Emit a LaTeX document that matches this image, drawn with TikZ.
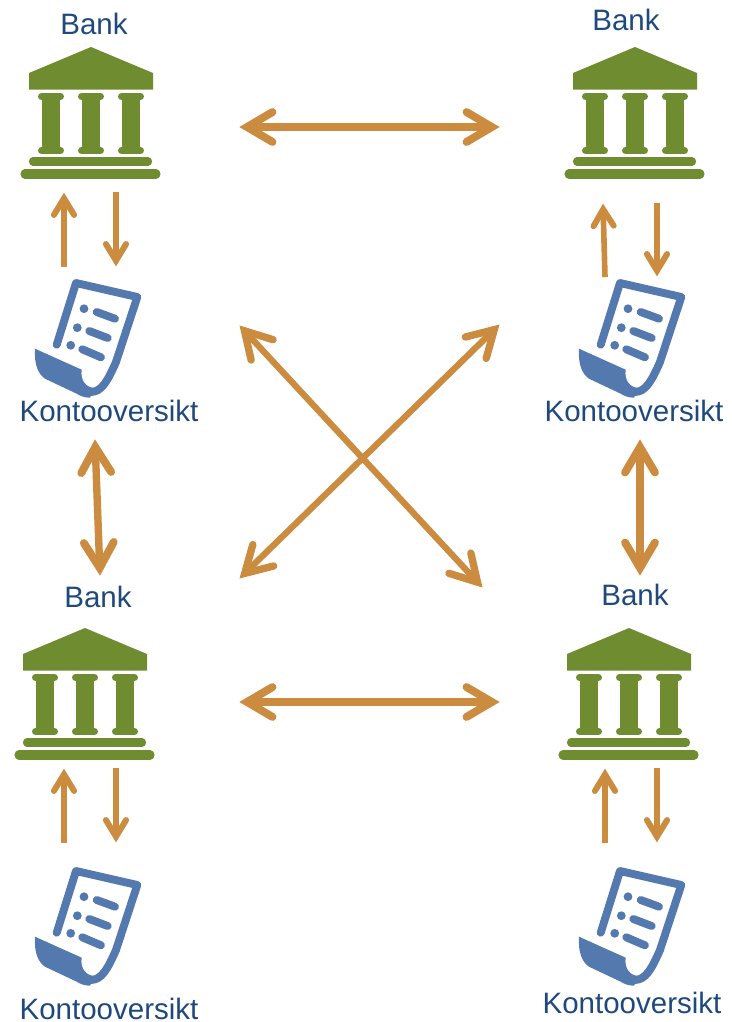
\documentclass[tikz,border=0pt]{standalone}
\usepackage{fontspec}
\setmainfont{Liberation Sans}
\usetikzlibrary{arrows.meta}
\definecolor{bankgreen}{HTML}{6F8D30}
\definecolor{docblue}{HTML}{5479AE}
\definecolor{arroworange}{HTML}{CC8C40}
\definecolor{labelblue}{HTML}{1F497D}
\pgfdeclarearrow{
  name=HeadBarb,
  parameters={\the\pgfarrowlength,\the\pgfarrowwidth,\the\pgfarrowlinewidth},
  defaults={length=18.5pt,width=17pt,line width=4.5pt},
  setup code={
    \pgfarrowssettipend{0pt}
    \pgfarrowssetbackend{-\pgfarrowlength}
    \pgfarrowssetlineend{-\pgfarrowlinewidth}
    \pgfarrowssetvisualbackend{-\pgfarrowlinewidth}
    \pgfarrowshullpoint{0pt}{0pt}
    \pgfarrowshullpoint{-\pgfarrowlength}{.5\pgfarrowwidth}
    \pgfarrowshullpoint{-\pgfarrowlength}{-.5\pgfarrowwidth}
  },
  drawing code={
    \pgfsetlinewidth{\pgfarrowlinewidth}
    \pgfsetroundcap
    \pgfsetmiterjoin
    \pgfsetdash{}{0pt}
    \pgfpathmoveto{\pgfqpoint{-\pgfarrowlength}{.5\pgfarrowwidth}}
    \pgfpathlineto{\pgfqpoint{-.9\pgfarrowlinewidth}{0pt}}
    \pgfpathlineto{\pgfqpoint{-\pgfarrowlength}{-.5\pgfarrowwidth}}
    \pgfusepathqstroke
  }
}
\tikzset{
  label/.style={text=labelblue, inner sep=0pt, font=\fontsize{16.8}{20}\selectfont},
  bigarrow/.style={arroworange, line width=4.2pt, {HeadBarb[line width=4.5pt]}-{HeadBarb[line width=4.5pt]}},
  diagarrow/.style={arroworange, line width=3.6pt, {HeadBarb[line width=4.2pt]}-{HeadBarb[line width=4.2pt]}},
  thinarrow/.style={arroworange, line width=3.2pt, -{HeadBarb[length=12.5pt,width=11.5pt,line width=3.4pt]}},
  bankicon/.pic={
    \fill[bankgreen] (0,0) -- (62,26) -- (62,42.5) -- (-62,42.5) -- (-62,26) -- cycle;
    \foreach \cx in {-40,0,40}{
      \fill[bankgreen] (\cx-9,49.5) rectangle (\cx+9,103.5);
      \draw[bankgreen, line width=4pt, line cap=round] (\cx-9.5,49.5) -- (\cx+9.5,49.5);
      \draw[bankgreen, line width=4pt, line cap=round] (\cx-9.5,103.5) -- (\cx+9.5,103.5);
    }
    \draw[bankgreen, line width=4.7pt, line cap=round] (-58,114.5) -- (57,114.5);
    \draw[bankgreen, line width=5.2pt, line cap=round] (-66,127) -- (65,127);
  },
  docicon/.pic={
    \draw[docblue, line width=4.5pt, line cap=round, line join=round]
      (56.7,72.7) -- (76,11) -- (137.3,25) -- (116,90)
      .. controls (108,108) and (102,120) .. (90.7,120);
    \fill[docblue] (35,76.7) -- (81.7,97.7) .. controls (80,108) and (86,116) .. (95,116)
      -- (90,125.7) .. controls (85,125.7) and (80,124) .. (76.7,121.7)
      -- (45,106.7) .. controls (38,102) and (34,92) .. (35,76.7) -- cycle;
    \foreach \dx/\dy/\ax/\ay/\bx/\by in {84/36.7/96.7/40/115/46.7, 77.3/55.7/89.3/59/107.7/66, 70.7/73.3/82.3/77.3/101/85.3}{
      \fill[docblue] (\dx,\dy) circle (2.5pt);
      \draw[docblue, line width=4.5pt, line cap=round] (\ax,\ay) -- (\bx,\by);
    }
  }
}
\begin{document}
\begin{tikzpicture}[x=0.02cm,y=-0.02cm]
  \useasboundingbox (0,0) rectangle (731,1022);
  % banks
  \foreach \x/\y in {91/47,635/47,85/628,629/628}{
    \pic at (\x,\y) {bankicon};
  }
  % statements
  \foreach \x/\y in {0/272,544/272,0/860,544/860}{
    \pic at (\x,\y) {docicon};
  }
  \node[label] (bank1) at (94,24) {Bank};
  \node[label] (bank2) at (626,20) {Bank};
  \node[label] (bank3) at (98,597) {Bank};
  \node[label] (bank4) at (635,595) {Bank};
  \node[label] (konto1) at (109,411) {Kontooversikt};
  \node[label] (konto2) at (634,411) {Kontooversikt};
  \node[label] (konto3) at (109,1009) {Kontooversikt};
  \node[label] (konto4) at (632,1003) {Kontooversikt};
  % arrow ends
  \foreach \n/\x/\y in {a/240/127,b/499/127,c/240/702,d/499/702,e/240/326,f/482/587,g/240/578,h/499/325,
    i/95/440,j/100/575,k/640/440,l/640/575}{
    \coordinate (\n) at (\x,\y);
  }
  \foreach \n/\x/\y in {ua/64/267,ub/64/193,uc/116/192,ud/116/266,ue/605/277,uf/603/204,ug/657/203,uh/657/276,
    ui/64/843,uj/64/769,uk/116/768,ul/116/842,um/605/843,un/605/769,uo/657/768,up/657/842}{
    \coordinate (\n) at (\x,\y);
  }
  \path[bigarrow]
  (a) edge (b)
  (c) edge (d)
  (i) edge (j)
  (k) edge (l);
  \path[diagarrow]
  (e) edge (f)
  (g) edge (h);
  \path[thinarrow]
  (ua) edge (ub)
  (uc) edge (ud)
  (ue) edge (uf)
  (ug) edge (uh)
  (ui) edge (uj)
  (uk) edge (ul)
  (um) edge (un)
  (uo) edge (up);
\end{tikzpicture}
\end{document}
